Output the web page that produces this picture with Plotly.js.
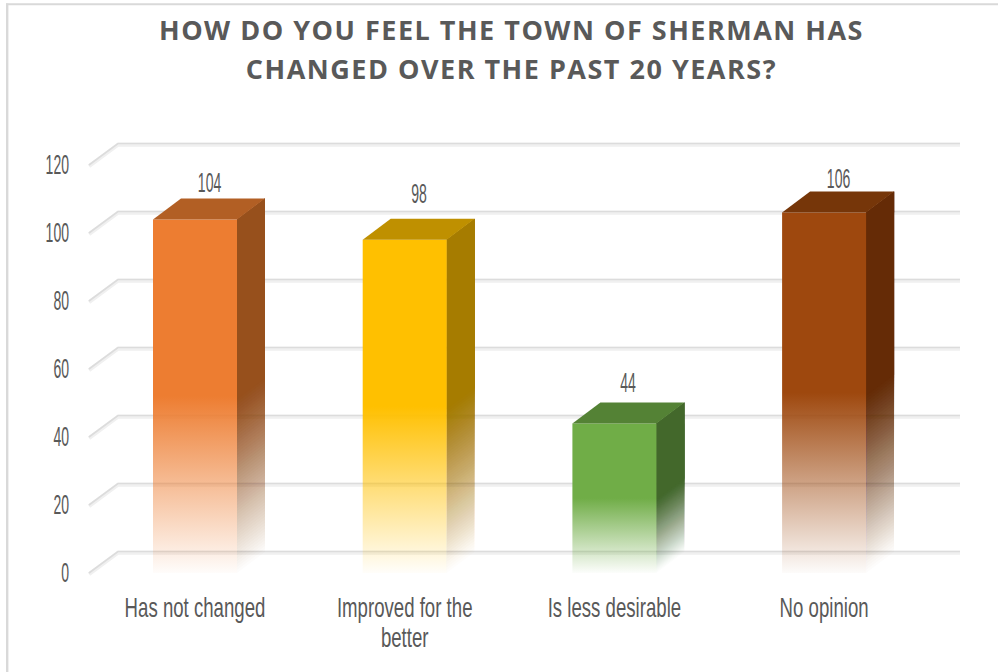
<!DOCTYPE html>
<html><head><meta charset="utf-8">
<script src="https://cdn.plot.ly/plotly-3.0.1.min.js"></script>
<style>
html,body{margin:0;padding:0;background:#fff}
#chart{width:998px;height:672px}
.gtitle{letter-spacing:1.5px}
</style></head><body><div id="chart"></div>
<script>
const categories = ['Has not changed','Improved for the<br>better','Is less desirable','No opinion'];
const values = [104,98,44,106];
const frontColors = ['#ed7d31','#ffc000','#70ad47','#9e480e'];
const sideColors = ['#97501c','#a67c00','#43682b','#652b06'];
const topColors = ['#b25f24','#bf9000','#548235','#763609'];
const yTicks = [0,20,40,60,80,100,120];
const labelNudge = [-2,8,2,-4];

const W=998,H=672, L=88,R=968,T=130,B=587;
const xUnit=209.7, x0px=195, yUnit=3.4, y0px=573;
const xRange=[(L-x0px)/xUnit,(R-x0px)/xUnit];
const yRange=[(y0px-B)/yUnit,(y0px-T)/yUnit];
const barW=84/xUnit, depthX=28/xUnit, depthY=21/yUnit;
const floorLeft=(89-x0px)/xUnit, backLeft=(118-x0px)/xUnit, backRight=(960-x0px)/xUnit, gridDepth=21.5/yUnit;
const rgba=(hex,a)=>{const n=parseInt(hex.slice(1),16);return `rgba(${n>>16},${(n>>8)&255},${n&255},${a})`;};
const traces=[];
const gx=[],gy=[],gyS=[];
yTicks.forEach(v=>{
  gx.push(floorLeft,backLeft,backRight,null);
  gy.push(v,v+gridDepth,v+gridDepth,null);
  gyS.push(v-0.35,v+gridDepth-0.35,v+gridDepth-0.35,null);
});
traces.push({type:'scatter',mode:'lines',x:gx,y:gyS,line:{color:'#f0f0f0',width:4},hoverinfo:'skip'});
traces.push({type:'scatter',mode:'lines',x:gx,y:gy,line:{color:'#dcdcdc',width:1.6},hoverinfo:'skip'});
const noLine={width:0,color:'rgba(0,0,0,0)'};
const fadeLayers=60, solidFrom=0.5;
values.forEach((v,i)=>{
  const a=i-barW/2,b=i+barW/2;
  // side face: overlapping layers whose alpha builds up along the skewed depth direction
  let prev=0;
  for(let k=1;k<=fadeLayers;k++){
    const target=k/fadeLayers, h=(k-1)/fadeLayers*solidFrom*v;
    const d=target>=1?1:1-(1-target)/(1-prev); prev=target;
    traces.push({type:'scatter',mode:'lines',fill:'toself',line:noLine,
      x:[b,b+depthX,b+depthX,b,b],y:[h,h+depthY,v+depthY,v,h],fillcolor:rgba(sideColors[i],d),hoverinfo:'skip'});
  }
  traces.push({type:'scatter',mode:'lines',fill:'toself',line:noLine,
    x:[a,b,b,a,a],y:[0,0,v,v,0],
    fillgradient:{type:'vertical',colorscale:[[0,rgba(frontColors[i],0.02)],[solidFrom,rgba(frontColors[i],1)],[1,rgba(frontColors[i],1)]]},hoverinfo:'skip'});
  traces.push({type:'scatter',mode:'lines',fill:'toself',line:noLine,
    x:[a,a+depthX,b+depthX,b,a],y:[v,v+depthY,v+depthY,v,v],fillcolor:topColors[i],hoverinfo:'skip'});
});
const labelFont={family:'"Liberation Sans",sans-serif',size:27,color:'#595959'};
const annotations=values.map((v,i)=>({x:i+depthX/2,y:v+depthY,text:String(v),showarrow:false,xanchor:'center',yanchor:'bottom',yshift:labelNudge[i],font:labelFont}));
const fx=(p)=>(p-L)/(R-L), fy=(p)=>(B-p)/(B-T);
const layout={
  width:W,height:H,margin:{l:L,r:W-R,t:T,b:H-B,pad:0},
  paper_bgcolor:'#fff',plot_bgcolor:'rgba(0,0,0,0)',showlegend:false,
  title:{text:'HOW DO YOU FEEL THE TOWN OF SHERMAN HAS<br>CHANGED OVER THE PAST 20 YEARS?',
    font:{family:'"Open Sans",sans-serif',size:27,color:'#595959',weight:700},x:0.5125,xanchor:'center',y:0.94,yanchor:'top'},
  xaxis:{range:xRange,tickmode:'array',tickvals:categories.map((c,i)=>i),ticktext:categories,showgrid:false,zeroline:false,showline:false,ticks:'',
    tickfont:labelFont,tickangle:0,ticklabelstandoff:2},
  yaxis:{range:yRange,tickmode:'array',tickvals:yTicks,ticktext:yTicks.map(String),showgrid:false,zeroline:false,showline:false,ticks:'',
    tickfont:labelFont,ticklabelstandoff:18},
  annotations,
  shapes:[
    {type:'line',xref:'paper',yref:'paper',x0:fx(7.2),x1:fx(7.2),y0:fy(H),y1:fy(3.5),line:{color:'#d9d9d9',width:2.4},layer:'below'},
    {type:'line',xref:'paper',yref:'paper',x0:fx(6),x1:fx(W),y0:fy(4.3),y1:fy(4.3),line:{color:'#d9d9d9',width:2},layer:'below'}
  ]
};
// narrow the sans glyphs to the condensed look of the original font
function squeeze(sel,s,anchor){
  document.querySelectorAll(sel).forEach(el=>{
    const bb=el.getBBox();
    const cx=anchor==='end'?bb.x+bb.width:bb.x+bb.width/2;
    const old=el.getAttribute('transform')||'';
    el.setAttribute('transform',`${old} translate(${cx} 0) scale(${s} 1) translate(${-cx} 0)`);
  });
}
Plotly.newPlot('chart',traces,layout,{displayModeBar:false,responsive:false}).then(()=>{
  document.querySelectorAll('.xtick text tspan.line').forEach(t=>{ if(parseFloat(t.getAttribute('dy'))>0) t.setAttribute('dy','1.11em'); });
  document.querySelectorAll('.gtitle tspan.line').forEach(t=>{ if(parseFloat(t.getAttribute('dy'))>0) t.setAttribute('dy','1.44em'); });
  squeeze('.xtick text',0.69,'middle');
  squeeze('.ytick text',0.52,'end');
  squeeze('.annotation-text',0.52,'middle');
});
</script></body></html>
